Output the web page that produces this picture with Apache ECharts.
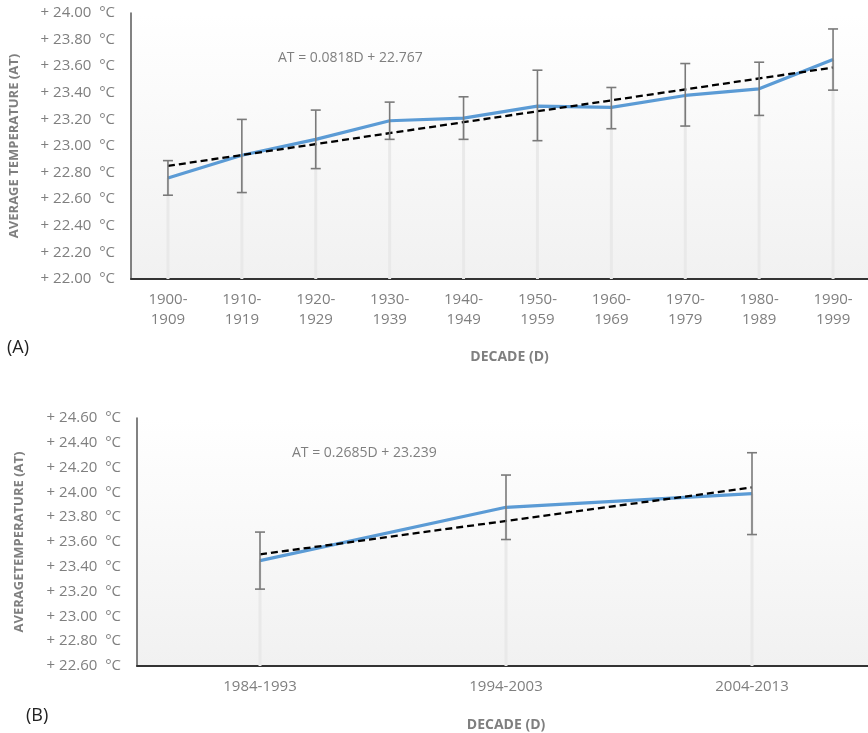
<!DOCTYPE html>
<html>
<head>
<meta charset="utf-8">
<script src="https://cdn.jsdelivr.net/npm/echarts@6/dist/echarts.min.js"></script>
<style>
  html, body { margin: 0; padding: 0; background: #fff; overflow: hidden; }
  #chart { width: 880px; height: 733px; }
</style>
</head>
<body>
<div id="chart"></div>
<script>
// panel A: decades 1900-1999
const decadesA = ['1900-\n1909', '1910-\n1919', '1920-\n1929', '1930-\n1939', '1940-\n1949',
  '1950-\n1959', '1960-\n1969', '1970-\n1979', '1980-\n1989', '1990-\n1999'];
const meanA = [22.76, 22.93, 23.05, 23.19, 23.21, 23.30, 23.29, 23.38, 23.43, 23.65];
const lowA = [22.63, 22.65, 22.83, 23.05, 23.05, 23.04, 23.13, 23.15, 23.23, 23.42];
const highA = [22.89, 23.20, 23.27, 23.33, 23.37, 23.57, 23.44, 23.62, 23.63, 23.88];
const trendA = [22.85, 23.59]; // first and last decade
const equationA = 'AT = 0.0818D + 22.767';

// panel B: 1984-2013
const decadesB = ['1984-1993', '1994-2003', '2004-2013'];
const meanB = [23.45, 23.88, 23.99];
const lowB = [23.22, 23.62, 23.66];
const highB = [23.68, 24.14, 24.32];
const trendB = [23.50, 24.04];
const equationB = 'AT = 0.2685D + 23.239';

const FONT = '"Open Sans", sans-serif';
const GRAY = '#7f7f7f';

// the plot areas run a little past the right edge of the window, so the div is wider
const chart = echarts.init(document.getElementById('chart'));

function plotBg() {
  return new echarts.graphic.LinearGradient(0, 0, 0, 1, [
    { offset: 0, color: '#ffffff' },
    { offset: 1, color: '#f1f1f1' }
  ]);
}

function tempLabel(v) {
  return '+ ' + v.toFixed(2) + '  °C';
}

// vertical light line from the point down to the axis
function dropSeries(idx, means, yMin) {
  return {
    type: 'custom',
    xAxisIndex: idx, yAxisIndex: idx,
    z: 1,
    silent: true,
    renderItem: function (params, api) {
      const p = api.coord([api.value(0), api.value(1)]);
      const b = api.coord([api.value(0), yMin]);
      return {
        type: 'line',
        shape: { x1: p[0], y1: p[1], x2: b[0], y2: b[1] },
        style: { stroke: '#e9e9e9', lineWidth: 3 }
      };
    },
    data: means.map((m, i) => [i, m])
  };
}

function errorSeries(idx, lows, highs) {
  return {
    type: 'custom',
    xAxisIndex: idx, yAxisIndex: idx,
    z: 5,
    silent: true,
    renderItem: function (params, api) {
      const t = api.coord([api.value(0), api.value(2)]);
      const b = api.coord([api.value(0), api.value(1)]);
      const st = { stroke: '#7a7a7a', lineWidth: 1.6 };
      return {
        type: 'group',
        children: [
          { type: 'line', shape: { x1: t[0], y1: t[1], x2: b[0], y2: b[1] }, style: st },
          { type: 'line', shape: { x1: t[0] - 5, y1: t[1], x2: t[0] + 5, y2: t[1] }, style: st },
          { type: 'line', shape: { x1: b[0] - 5, y1: b[1], x2: b[0] + 5, y2: b[1] }, style: st }
        ]
      };
    },
    encode: { x: 0, y: [1, 2] },
    data: lows.map((l, i) => [i, l, highs[i]])
  };
}

function meanSeries(idx, means) {
  return {
    type: 'line', xAxisIndex: idx, yAxisIndex: idx, z: 3,
    data: means, showSymbol: false, symbol: 'none',
    lineStyle: { color: '#5b9bd5', width: 3.2 }
  };
}

function trendSeries(idx, ends, n) {
  return {
    type: 'line', xAxisIndex: idx, yAxisIndex: idx, z: 4,
    data: [[0, ends[0]], [n - 1, ends[1]]], symbol: 'none',
    lineStyle: { color: '#000', width: 2.3, type: [7, 4] }
  };
}

function xAxisCfg(idx, cats, lineH, pad) {
  return {
    type: 'category', gridIndex: idx, data: cats, boundaryGap: true,
    axisLine: { lineStyle: { color: '#333', width: 2 } },
    axisTick: { show: false },
    axisLabel: { color: GRAY, fontFamily: FONT, fontSize: 15, lineHeight: lineH, margin: 11, interval: 0 },
    splitLine: { show: false },
    name: 'DECADE (D)', nameLocation: 'middle', nameGap: idx === 0 ? 71 : 52,
    nameTextStyle: { color: GRAY, fontFamily: FONT, fontSize: 14, fontWeight: 'bold', padding: pad }
  };
}

function yAxisCfg(idx, min, max, title, gap) {
  return {
    type: 'value', gridIndex: idx, min: min, max: max, interval: 0.2,
    axisLine: { show: true, lineStyle: { color: '#595959', width: 1.5 } },
    axisTick: { show: false },
    splitLine: { show: false },
    axisLabel: { color: GRAY, fontFamily: FONT, fontSize: 15, margin: 16, formatter: tempLabel },
    name: title, nameLocation: 'middle', nameRotate: 90, nameGap: gap,
    nameTextStyle: { color: GRAY, fontFamily: FONT, fontSize: 13, fontWeight: 'bold' }
  };
}

chart.setOption({
  animation: false,
  backgroundColor: '#fff',
  grid: [
    { left: 130, top: 13, width: 740, height: 266, show: true, borderWidth: 0, backgroundColor: plotBg() },
    { left: 137, top: 418, width: 738, height: 249, show: true, borderWidth: 0, backgroundColor: plotBg() }
  ],
  xAxis: [
    xAxisCfg(0, decadesA, 20, [0, 0, 0, 18]),
    xAxisCfg(1, decadesB, 20, [0, 0, 0, 0])
  ],
  yAxis: [
    yAxisCfg(0, 22, 24, 'AVERAGE TEMPERATURE (AT)', 110),
    yAxisCfg(1, 22.6, 24.6, 'AVERAGETEMPERATURE (AT)', 111)
  ],
  graphic: [
    { type: 'text', left: 278, top: 51, style: { text: equationA, fill: GRAY, font: '14px ' + FONT } },
    { type: 'text', left: 292, top: 446, style: { text: equationB, fill: GRAY, font: '14px ' + FONT } },
    { type: 'text', left: 7, top: 339, style: { text: '(A)', fill: '#222', font: '18px ' + FONT } },
    { type: 'text', left: 26, top: 707, style: { text: '(B)', fill: '#222', font: '18px ' + FONT } }
  ],
  series: [
    dropSeries(0, meanA, 22),
    meanSeries(0, meanA),
    trendSeries(0, trendA, decadesA.length),
    errorSeries(0, lowA, highA),
    dropSeries(1, meanB, 22.6),
    meanSeries(1, meanB),
    trendSeries(1, trendB, decadesB.length),
    errorSeries(1, lowB, highB)
  ]
});
</script>
</body>
</html>
